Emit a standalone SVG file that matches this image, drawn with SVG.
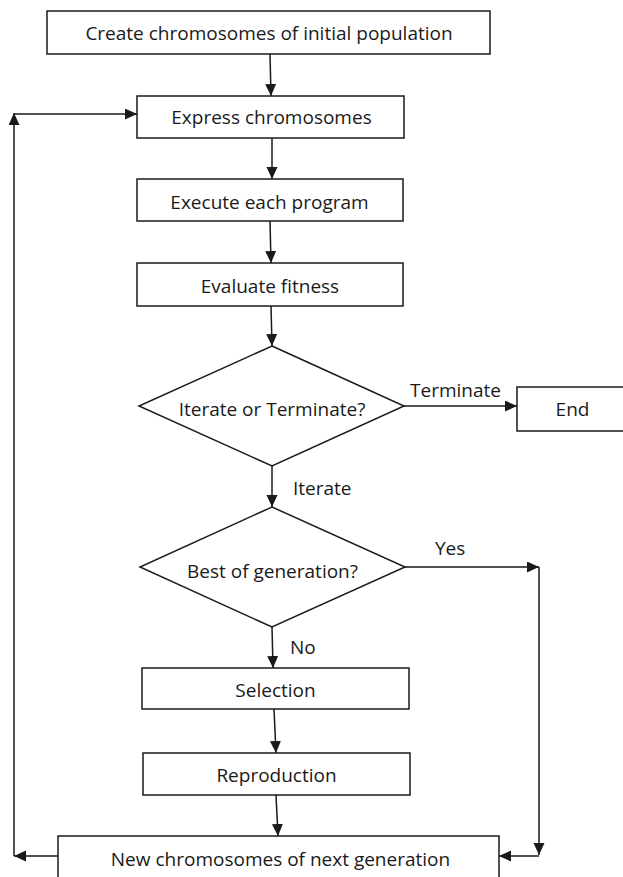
<svg xmlns="http://www.w3.org/2000/svg" width="623" height="877" viewBox="0 0 623 877">
<style>
.box{fill:#fff;stroke:#1a1a1a;stroke-width:1.5}
.t{font-family:"Open Sans","Liberation Sans",sans-serif;font-size:19px;fill:#1a1a1a}
.c{text-anchor:middle}
.ln{fill:none;stroke:#1a1a1a;stroke-width:1.5}
.ar{marker-end:url(#ah)}
</style>
<defs>
<marker id="ah" markerUnits="userSpaceOnUse" markerWidth="13" markerHeight="12" refX="12" refY="5.5" orient="auto">
<path d="M0,0 L12,5.5 L0,11 z" fill="#1a1a1a"/>
</marker>
</defs>
<rect width="623" height="877" fill="#fff"/>
<g id="connectors">
<path class="ln ar" d="M270,54 L271,96"/>
<path class="ln ar" d="M272,138 L272,179"/>
<path class="ln ar" d="M270,221 L271,263"/>
<path class="ln ar" d="M271,306 L272,346"/>
<path class="ln ar" d="M404,406 L517,406"/>
<path class="ln ar" d="M272,466 L272,507"/>
<path class="ln ar" d="M405,567 L539,567"/>
<path class="ln ar" d="M539,567 L539,855"/>
<path class="ln ar" d="M539,856 L499,856"/>
<path class="ln ar" d="M272,627 L273,668"/>
<path class="ln ar" d="M274,709 L276,753"/>
<path class="ln ar" d="M276,795 L278,836"/>
<path class="ln ar" d="M58,856 L14,856"/>
<path class="ln ar" d="M14,856 L14,113"/>
<path class="ln ar" d="M14,114 L137,114"/>
<text class="t" x="410" y="397">Terminate</text>
<text class="t" x="293" y="495">Iterate</text>
<text class="t" x="435" y="555">Yes</text>
<text class="t" x="290" y="654">No</text>
</g>
<g id="create">
<rect class="box" x="47" y="11" width="443" height="43"/>
<text class="t c" x="269" y="40">Create chromosomes of initial population</text>
</g>
<g id="express">
<rect class="box" x="137" y="96" width="267" height="42"/>
<text class="t c" x="271.5" y="124">Express chromosomes</text>
</g>
<g id="execute">
<rect class="box" x="137" y="179" width="266" height="42"/>
<text class="t c" x="269.5" y="209">Execute each program</text>
</g>
<g id="evaluate">
<rect class="box" x="137" y="263" width="266" height="43"/>
<text class="t c" x="270" y="293">Evaluate fitness</text>
</g>
<g id="iterate-decision">
<polygon class="box" points="272,346 404,406 272,466 139,406"/>
<text class="t c" x="272" y="416">Iterate or Terminate?</text>
</g>
<g id="end">
<rect class="box" x="517" y="387" width="120" height="44"/>
<text class="t c" x="572.5" y="416">End</text>
</g>
<g id="best-decision">
<polygon class="box" points="272,507 405,567 272,627 140,567"/>
<text class="t c" x="272.5" y="578">Best of generation?</text>
</g>
<g id="selection">
<rect class="box" x="142" y="668" width="267" height="41"/>
<text class="t c" x="275.5" y="697">Selection</text>
</g>
<g id="reproduction">
<rect class="box" x="143" y="753" width="267" height="42"/>
<text class="t c" x="276.5" y="782">Reproduction</text>
</g>
<g id="new-generation">
<rect class="box" x="58" y="836" width="441" height="60"/>
<text class="t c" x="280.5" y="866">New chromosomes of next generation</text>
</g>
</svg>
